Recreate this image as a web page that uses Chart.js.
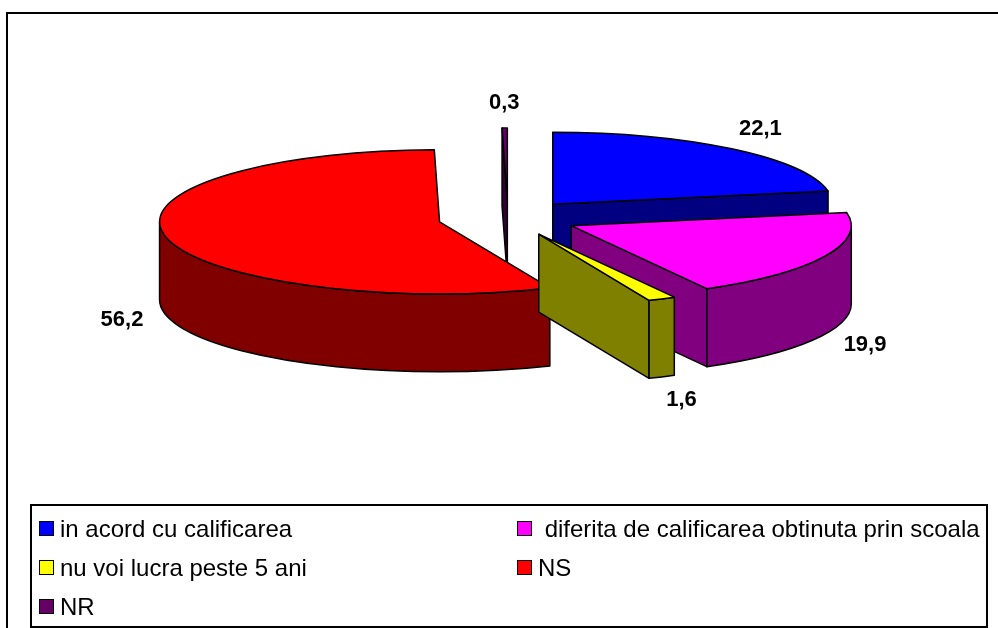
<!DOCTYPE html>
<html>
<head>
<meta charset="utf-8">
<script src="https://cdn.jsdelivr.net/npm/chart.js@4.4.1/dist/chart.umd.min.js"></script>
<style>
  html, body { margin: 0; padding: 0; background: #fff; }
  body { width: 998px; height: 628px; position: relative; overflow: hidden; font-family: Arial, "Liberation Sans", sans-serif; }
  #frame { position: absolute; left: 6px; top: 12px; width: 1010px; height: 640px; border: 2px solid #000; box-sizing: border-box; }
  #pie { position: absolute; left: 0; top: 0; }
  #legend { position: absolute; left: 30px; top: 504px; width: 958px; height: 124px; border: 2px solid #000; box-sizing: border-box;
            display: grid; grid-template-columns: 478px 1fr; grid-auto-rows: 39px; padding: 3px 0 0 7px; }
  .item { display: flex; align-items: center; font-size: 24px; color: #000; white-space: pre; }
  .box { width: 13px; height: 13px; border: 1px solid #000; margin-right: 6px; flex: none; }
</style>
</head>
<body>
<div id="frame"></div>
<canvas id="pie" width="998" height="628"></canvas>
<div id="legend"></div>
<script>
  // categorii si procente
  const labels = ['in acord cu calificarea', ' diferita de calificarea obtinuta prin scoala', 'nu voi lucra peste 5 ani', 'NS', 'NR'];
  const values = [22.1, 19.9, 1.6, 56.2, 0.3];
  const topColors = ['#0000FF', '#FF00FF', '#FFFF00', '#FF0000', '#660066'];
  const sideColors = ['#000080', '#800080', '#808000', '#800000', '#330033'];

  const DEPTH = 78;          // inaltimea peretelui lateral
  const TILT = 72 / 280;     // turtirea elipsei

  function proj(cx, cy, r, a) {
    return [cx + Math.cos(a) * r, cy + Math.sin(a) * r * TILT];
  }

  function sliceGeom(arc) {
    const p = arc.getProps(['x', 'y', 'startAngle', 'endAngle', 'outerRadius'], true);
    const mid = (p.startAngle + p.endAngle) / 2;
    const off = arc.options.offset || 0;
    return {
      start: p.startAngle, end: p.endAngle, mid: mid, r: p.outerRadius,
      cx: p.x + Math.cos(mid) * off,
      cy: p.y + Math.sin(mid) * off * TILT
    };
  }

  // plugin care deseneaza felii 3D pe baza arcelor calculate de Chart.js
  const pie3d = {
    id: 'pie3d',
    beforeDatasetsDraw(chart) {
      const ctx = chart.ctx;
      const meta = chart.getDatasetMeta(0);
      const slices = meta.data.map((arc, i) => Object.assign({ i: i }, sliceGeom(arc)));
      slices.sort((a, b) => a.cy - b.cy);

      ctx.save();
      ctx.lineWidth = 1.5;
      ctx.lineJoin = 'round';
      ctx.strokeStyle = '#000';

      const paint = (color) => { ctx.fillStyle = color; ctx.fill(); ctx.stroke(); };

      const radialFace = (s, a) => {
        const [px, py] = proj(s.cx, s.cy, s.r, a);
        ctx.beginPath();
        ctx.moveTo(s.cx, s.cy);
        ctx.lineTo(px, py);
        ctx.lineTo(px, py + DEPTH);
        ctx.lineTo(s.cx, s.cy + DEPTH);
        ctx.closePath();
        paint(sideColors[s.i]);
      };

      slices.forEach(s => {
        // fete radiale vizibile
        if (Math.cos(s.start) < 0) radialFace(s, s.start);
        if (Math.cos(s.end) > 0) radialFace(s, s.end);

        // peretele curb din fata
        const a0 = Math.max(s.start, 0), a1 = Math.min(s.end, Math.PI);
        if (a1 > a0) {
          ctx.beginPath();
          ctx.ellipse(s.cx, s.cy, s.r, s.r * TILT, 0, a0, a1);
          ctx.ellipse(s.cx, s.cy + DEPTH, s.r, s.r * TILT, 0, a1, a0, true);
          ctx.closePath();
          paint(sideColors[s.i]);
        }

        // fata de sus
        ctx.beginPath();
        ctx.moveTo(s.cx, s.cy);
        ctx.ellipse(s.cx, s.cy, s.r, s.r * TILT, 0, s.start, s.end);
        ctx.closePath();
        paint(topColors[s.i]);
      });
      ctx.restore();
      return false;
    },
    afterDraw(chart) {
      const ctx = chart.ctx;
      const meta = chart.getDatasetMeta(0);
      ctx.save();
      ctx.font = 'bold 22px Arial, "Liberation Sans", sans-serif';
      ctx.fillStyle = '#000';
      ctx.textAlign = 'center';
      ctx.textBaseline = 'middle';
      meta.data.forEach((arc, i) => {
        const s = sliceGeom(arc);
        const sin = Math.sin(s.mid);
        const x = s.cx + Math.cos(s.mid) * s.r * 1.16;
        const y = s.cy + sin * s.r * TILT * 1.35 + (sin > 0 ? DEPTH : 0);
        ctx.fillText(String(values[i]).replace('.', ','), x, y);
      });
      ctx.restore();
    }
  };

  new Chart(document.getElementById('pie'), {
    type: 'pie',
    data: {
      labels: labels,
      datasets: [{
        data: values,
        backgroundColor: topColors,
        offset: 70
      }]
    },
    options: {
      responsive: false,
      animation: false,
      radius: 280,
      layout: { padding: { left: 18, right: 0, top: 0, bottom: 192 } },
      plugins: { legend: { display: false }, tooltip: { enabled: false } },
      events: []
    },
    plugins: [pie3d]
  });

  // legenda pe doua coloane
  const legend = document.getElementById('legend');
  labels.forEach((name, i) => {
    const item = document.createElement('div');
    item.className = 'item';
    const box = document.createElement('span');
    box.className = 'box';
    box.style.background = topColors[i];
    item.appendChild(box);
    item.appendChild(document.createTextNode(name));
    legend.appendChild(item);
  });
</script>
</body>
</html>
